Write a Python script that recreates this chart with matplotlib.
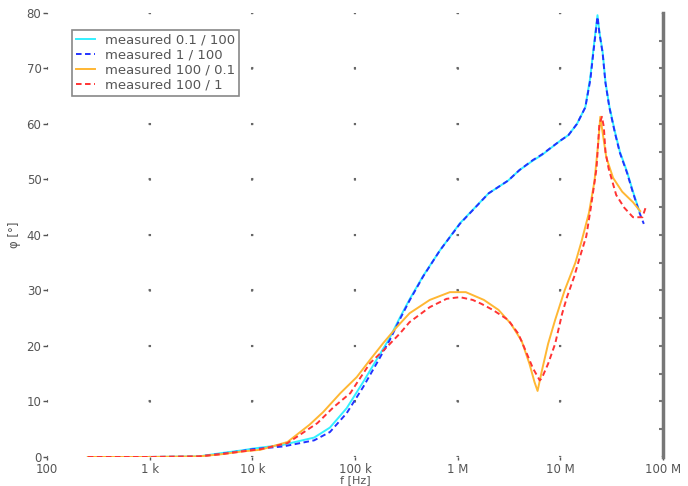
import matplotlib
matplotlib.use('Agg')
import matplotlib.pyplot as plt
import numpy as np

# --- data ---
f_lo = [250, 1e3, 3e3, 5e3, 8e3, 10e3, 20e3, 40e3, 57e3, 83e3, 120e3, 163e3,
        217e3, 275e3, 340e3, 460e3, 670e3, 1.05e6, 2.0e6, 3.1e6, 4.0e6, 5.4e6,
        6.6e6, 10e6, 12e6, 14.5e6, 17.5e6, 19.6e6, 21e6, 23e6, 24e6, 25.8e6,
        27.5e6, 30e6, 34e6, 38e6, 44.6e6, 51e6, 59e6, 65e6]
phi_01_100 = [0, 0, 0.1, 0.7, 1.2, 1.5, 2.2, 3.5, 5.3, 8.8, 13.5, 17.6,
              21.4, 25.2, 28.4, 32.6, 37.2, 42.1, 47.5, 49.8, 51.7, 53.4,
              54.4, 57.0, 58.0, 60.0, 63.0, 68.5, 73.5, 79.6, 76.6, 73.0,
              67.6, 63.2, 58.6, 55.0, 51.4, 47.8, 44.2, np.nan]
phi_1_100 = [0, 0, 0.1, 0.6, 1.1, 1.4, 1.9, 3.0, 4.5, 7.9, 12.6, 16.9,
             21.0, 24.9, 28.2, 32.5, 37.2, 42.0, 47.5, 49.8, 51.7, 53.5,
             54.5, 57.0, 58.0, 60.0, 63.0, 68.0, 73.0, 79.3, 76.4, 72.8,
             67.4, 63.0, 58.4, 54.8, 51.2, 47.6, 44.0, 42.0]

f_hi = [250, 1e3, 3e3, 5e3, 8e3, 12e3, 22e3, 36e3, 49e3, 72e3, 104e3, 140e3,
        188e3, 255e3, 340e3, 535e3, 840e3, 1.2e6, 1.8e6, 2.5e6, 3.3e6, 4.2e6,
        5.0e6, 5.6e6, 6.0e6, 6.6e6, 7.6e6, 8.9e6, 11e6, 14e6, 16e6, 19e6,
        21.5e6, 23.5e6, 24.5e6, 26.5e6, 28e6, 32.6e6, 40e6, 51e6, 60e6]
phi_100_01 = [0, 0, 0.1, 0.5, 1.0, 1.3, 2.7, 5.8, 8.1, 11.5, 14.4, 17.5,
              20.5, 23.4, 25.9, 28.3, 29.7, 29.7, 28.3, 26.5, 24.0, 20.9,
              16.8, 13.5, 11.9, 15.5, 20.4, 24.7, 30.0, 35.0, 38.7, 44.0,
              49.7, 57.0, 61.3, 57.0, 54.0, 50.3, 47.8, 45.9, 44.3]

f_red = [250, 1e3, 3e3, 5e3, 8e3, 12e3, 22e3, 43e3, 62e3, 90e3, 104e3, 140e3,
         204e3, 275e3, 340e3, 535e3, 780e3, 1.05e6, 1.4e6, 1.7e6, 2.2e6, 3.1e6,
         3.9e6, 4.6e6, 5.4e6, 6.3e6, 6.6e6, 7.6e6, 8.9e6, 10.4e6, 11.6e6,
         13.7e6, 15.3e6, 17.9e6, 19.8e6, 22.5e6, 24e6, 25.4e6, 26.5e6, 27.5e6,
         29.5e6, 35e6, 42e6, 51e6, 63e6, 69e6]
phi_100_1 = [0, 0, 0.1, 0.5, 1.0, 1.4, 2.5, 6.1, 9.0, 11.5, 13.3, 16.9,
             19.8, 22.3, 24.3, 27.0, 28.5, 28.8, 28.3, 27.6, 26.5, 24.7,
             22.2, 19.1, 16.0, 13.8, 14.2, 16.8, 20.4, 25.8, 28.8,
             32.6, 35.7, 39.8, 44.9, 52.0, 60.0, 61.3, 59.5, 55.0,
             52.0, 47.2, 44.9, 43.2, 43.2, 45.4]

x_ticks = [1e2, 1e3, 1e4, 1e5, 1e6, 1e7, 1e8]
x_labels = ['100', '1 k', '10 k', '100 k', '1 M', '10 M', '100 M']
y_ticks = [0, 10, 20, 30, 40, 50, 60, 70, 80]

# --- figure ---
plt.rcParams['lines.scale_dashes'] = False
fig = plt.figure(figsize=(6.88, 4.86), dpi=100)
ax = fig.add_axes([0.0683, 0.0597, 0.8954, 0.9136])

ax.plot(f_lo, phi_01_100, color='#33f0ff', lw=1.4, label='measured 0.1 / 100')
ax.plot(f_lo, phi_1_100, color='#2233ff', lw=1.4, dashes=(4, 2.5),
        label='measured 1 / 100')
ax.plot(f_hi, phi_100_01, color='#ffb733', lw=1.4, label='measured 100 / 0.1')
ax.plot(f_red, phi_100_1, color='#ff3333', lw=1.4, dashes=(4, 2.5),
        label='measured 100 / 1')

ax.set_xscale('log')
ax.set_xlim(1e2, 1e8)
ax.set_ylim(0, 80)
ax.set_xticks(x_ticks)
ax.set_xticklabels(x_labels)
ax.xaxis.set_minor_locator(matplotlib.ticker.NullLocator())
ax.set_yticks(y_ticks)

# sparse dotted grid: one dot per intersection
ax.xaxis.grid(True, color='#666666', lw=1.5, linestyle=(0.75, (1.5, 38.45)))
ax.yaxis.grid(True, color='#666666', lw=1.5, linestyle=(0.75, (1.5, 72.4)))

for s in ['left', 'top', 'bottom']:
    ax.spines[s].set_visible(False)
ax.spines['right'].set_color('#777777')
ax.spines['right'].set_linewidth(2.5)

ax.tick_params(axis='both', colors='#555555', labelsize=8.5, length=3, width=1)
ax.tick_params(axis='x', length=2, pad=2)
ax.tick_params(axis='y', pad=1)

# inward ticks on the right spine every 5
ax2 = ax.twinx()
ax2.set_ylim(0, 80)
ax2.set_yticks(np.arange(5, 80, 5))
ax2.tick_params(axis='y', direction='in', length=3, width=1.5, colors='#777777',
                labelright=False)
for s in ['left', 'top', 'bottom', 'right']:
    ax2.spines[s].set_visible(False)

ax.set_xlabel('f [Hz]', fontsize=8, color='#555555')
ax.xaxis.set_label_coords(0.5, -0.04)
ax.set_ylabel('φ [°]', fontsize=8.5, color='#555555', labelpad=4)

leg = ax.legend(loc='upper left', bbox_to_anchor=(0.04, 0.962), borderaxespad=0,
                fontsize=9.5, fancybox=False, framealpha=1, edgecolor='#888888',
                handlelength=1.5, handletextpad=0.7, labelspacing=0.15,
                borderpad=0.3)
leg.get_frame().set_linewidth(1.2)
for t in leg.get_texts():
    t.set_color('#555555')

plt.savefig('out.png', dpi=100)
